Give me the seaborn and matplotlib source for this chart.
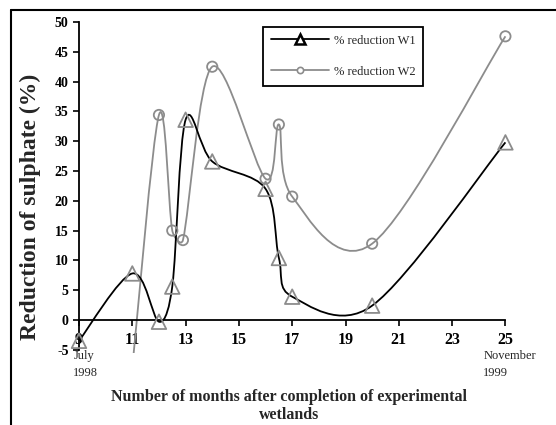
import numpy as np
import pandas as pd
import seaborn as sns
import matplotlib
matplotlib.use("Agg")
import matplotlib.pyplot as plt
from matplotlib.path import Path
from matplotlib.patches import PathPatch
from matplotlib.lines import Line2D

# months after completion (9 = July 1998, 25 = November 1999)
months_w1 = [9, 11, 12, 12.5, 13, 14, 16, 16.5, 17, 20, 25]
reduction_w1 = [-3.5, 7.8, -0.3, 5.6, 33.6, 26.6, 22.0, 10.4, 3.9, 2.4, 29.8]

months_w2 = [11, 12, 12.5, 12.9, 14, 16, 16.5, 17, 20, 25]
reduction_w2 = [-8.0, 34.4, 15.0, 13.4, 42.5, 23.7, 32.8, 20.7, 12.8, 47.6]

x_ticks = [9, 11, 13, 15, 17, 19, 21, 23, 25]
x_tick_labels = ["9", "11", "13", "15", "17", "19", "21", "23", "25"]
y_ticks = [-5, 0, 5, 10, 15, 20, 25, 30, 35, 40, 45, 50]
y_tick_labels = ["-5", "0", "5", "10", "15", "20", "25", "30", "35", "40", "45", "50"]

GREY = "#8c8c8c"

sns.set_theme(style="white", rc={"axes.unicode_minus": False})
plt.rcParams["font.family"] = ["Liberation Serif", "DejaVu Serif"]


def smooth_path(ax, xs, ys):
    # Excel-like smoothed line: cubic bezier segments through the points,
    # worked out in screen space so short segments don't overshoot
    to_px = ax.transData
    pts = to_px.transform(np.column_stack([xs, ys]).astype(float))
    n = len(pts)
    verts = [pts[0]]
    codes = [Path.MOVETO]
    for i in range(n - 1):
        p0 = pts[max(i - 1, 0)]
        p1 = pts[i]
        p2 = pts[i + 1]
        p3 = pts[min(i + 2, n - 1)]
        half = np.hypot(*(p2 - p1)) / 2
        d1 = (p2 - p0) / 6
        d2 = (p3 - p1) / 6
        if np.hypot(*d1) > half:
            d1 = d1 * half / np.hypot(*d1)
        if np.hypot(*d2) > half:
            d2 = d2 * half / np.hypot(*d2)
        verts += [p1 + d1, p2 - d2, p2]
        codes += [Path.CURVE4] * 3
    verts = to_px.inverted().transform(np.array(verts))
    return Path(verts, codes)


df1 = pd.DataFrame({"month": months_w1, "reduction": reduction_w1})
df2 = pd.DataFrame({"month": months_w2, "reduction": reduction_w2})

fig = plt.figure(figsize=(5.56, 4.25), dpi=100)
ax = fig.add_axes([0.1229, 0.1687, 0.8053, 0.7795])
ax.set_facecolor("none")
ax.set_xlim(8.6, 25.4)
ax.set_ylim(-5.6, 50)

sns.scatterplot(data=df2, x="month", y="reduction", marker="o", s=55,
                facecolor="none", edgecolor=GREY, linewidth=1.3, ax=ax,
                legend=False, zorder=4)
sns.scatterplot(data=df1, x="month", y="reduction", marker="^", s=110,
                facecolor="none", edgecolor=GREY, linewidth=1.3, ax=ax,
                legend=False, zorder=4)
ax.set_xlim(8.6, 25.4)
ax.set_ylim(-5.6, 50)

ax.add_patch(PathPatch(smooth_path(ax, months_w2, reduction_w2), facecolor="none",
                       edgecolor=GREY, lw=1.3, zorder=2))
ax.add_patch(PathPatch(smooth_path(ax, months_w1, reduction_w1), facecolor="none",
                       edgecolor="black", lw=1.3, zorder=3))
ax.set_xlim(8.6, 25.4)
ax.set_ylim(-5.6, 50)
ax.set_xlabel("")
ax.set_ylabel("")

for side in ["top", "right"]:
    ax.spines[side].set_visible(False)
ax.spines["left"].set_position(("data", 9))
ax.spines["left"].set_bounds(-5, 50)
ax.spines["bottom"].set_position(("data", 0))
ax.spines["bottom"].set_bounds(9, 25)
for side in ["left", "bottom"]:
    ax.spines[side].set_color("black")
    ax.spines[side].set_linewidth(1.3)

ax.set_xticks(x_ticks)
ax.set_xticklabels(x_tick_labels, fontweight="bold", fontsize=11.5)
ax.set_yticks(y_ticks)
ax.set_yticklabels(y_tick_labels, fontweight="bold", fontsize=10)
ax.tick_params(axis="x", direction="out", length=4, width=1.2, pad=4.5,
               bottom=True, colors="black")
ax.tick_params(axis="y", direction="out", length=4.5, width=1.2, pad=3,
               left=True, colors="black")

# start / end dates under the axis
ax.text(8.79, -6.0, "July", fontsize=9, va="center", ha="left")
ax.text(8.79, -8.9, "1998", fontsize=9, va="center", ha="left")
ax.text(24.17, -6.0, "November", fontsize=9, va="center", ha="left")
ax.text(24.17, -8.9, "1999", fontsize=9, va="center", ha="left")

fig.text(30 / 556, 1 - 207 / 425, "Reduction of sulphate (%)", rotation=90,
         fontsize=17, fontweight="bold", ha="center", va="center")
fig.text(289 / 556, 1 - 406 / 425,
         "Number of months after completion of experimental\nwetlands",
         fontsize=11.5, fontweight="bold", ha="center", va="center",
         linespacing=1.15)

handles = [
    Line2D([], [], color="black", lw=1.3, marker="^", markersize=7,
           markerfacecolor="white", markeredgecolor="black", markeredgewidth=1.8),
    Line2D([], [], color=GREY, lw=1.3, marker="o", markersize=4.5,
           markerfacecolor="white", markeredgecolor=GREY, markeredgewidth=1.2),
]
leg = ax.legend(handles, ["% reduction W1", "% reduction W2"],
                loc="upper left", bbox_to_anchor=(263 / 556, 1 - 26.7 / 425),
                bbox_transform=fig.transFigure, borderaxespad=0,
                fontsize=9, handlelength=4.6, handletextpad=0.4,
                labelspacing=1.5, borderpad=0.65, fancybox=False,
                framealpha=1, edgecolor="black")
leg.get_frame().set_linewidth(1.3)

# outer frame (left and top edges)
fig.add_artist(Line2D([11 / 556, 11 / 556], [0, 1 - 10 / 425], color="black",
                      lw=1.5, transform=fig.transFigure))
fig.add_artist(Line2D([11 / 556, 1], [1 - 10 / 425, 1 - 10 / 425], color="black",
                      lw=1.5, transform=fig.transFigure))

fig.savefig("out.png", dpi=100)
